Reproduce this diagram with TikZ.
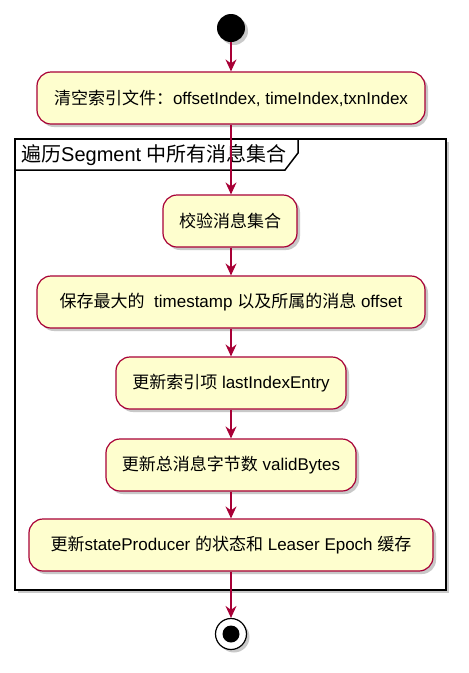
\documentclass[tikz,border=0pt]{standalone}
\usepackage{fontspec}
\setmainfont{Liberation Sans}
\newfontfamily\cjk{Noto Sans CJK SC}
\usetikzlibrary{arrows.meta,shadows}
\definecolor{umlred}{HTML}{A80036}
\definecolor{umlfill}{HTML}{FEFECE}
\newcommand{\zh}[1]{{\cjk #1}}
\def\midx{231}

\begin{document}
\begin{tikzpicture}[x=1pt,y=-1pt,>={Stealth[length=12pt,width=11pt,inset=4pt]}]
    \tikzstyle{umlshadow}=[drop shadow={shadow xshift=3pt,shadow yshift=-3pt,opacity=.3,fill=black!70}]
    \tikzstyle{flow}=[->,draw=umlred,line width=1.2pt]
    \tikzstyle{action}=[rounded rectangle/.try,draw=umlred,fill=umlfill,line width=1.2pt,rounded corners=14pt,minimum height=52pt,inner sep=0pt,font=\fontsize{17}{20}\selectfont,umlshadow]
    \tikzstyle{start}=[circle,fill=black,minimum size=28pt,inner sep=0pt,umlshadow]
    \tikzstyle{stop}=[circle,draw=black,fill=white,line width=1.2pt,minimum size=31pt,inner sep=0pt,umlshadow,
        path picture={\fill[black] (path picture bounding box.center) circle (8.5pt);}]
    \tikzstyle{frame}=[draw=black,line width=2pt,fill=white,umlshadow]
    \tikzstyle{frame tab}=[draw=black,line width=1.5pt]

    \useasboundingbox (0,0) rectangle (469,673);

    % Draw the loop frame
    \draw[frame] (15,139) rectangle (446,590);
    \draw[frame tab] (15,170) -- (285,170) -- (298,153) -- (298,139);
    \node[anchor=west,inner sep=0pt,font=\fontsize{20}{24}\selectfont] (loop) at (21,155) {\zh{遍历}Segment \zh{中所有消息集合}};

    % Draw the start and stop nodes
    \node[start] (S) at (\midx,28) {};
    \node[stop] (E) at (\midx,634) {};

    % Draw the action nodes
    \node[action,minimum width=388pt] (A-1) at (\midx,98) {\zh{清空索引文件：}offsetIndex, timeIndex,txnIndex};
    \node[action,minimum width=134pt] (A-2) at (230,221) {\zh{校验消息集合}};
    \node[action,minimum width=388pt] (A-3) at (\midx,302) {\zh{保存最大的}~~timestamp \zh{以及所属的消息} offset};
    \node[action,minimum width=230pt] (A-4) at (\midx,383) {\zh{更新索引项} lastIndexEntry};
    \node[action,minimum width=250pt] (A-5) at (\midx,465) {\zh{更新总消息字节数} validBytes};
    \node[action,minimum width=404pt] (A-6) at (\midx,545) {\zh{更新}stateProducer \zh{的状态和} Leaser Epoch \zh{缓存}};

    % Connect the nodes one after another
    \draw[flow] (S) -- (A-1);
    \foreach \source/\dest in {1/2,2/3,3/4,4/5,5/6}
        \draw[flow] (A-\source.south -| \midx,0) -- (A-\dest.north -| \midx,0);
    \draw[flow] (A-6) -- (E);
\end{tikzpicture}
\end{document}
